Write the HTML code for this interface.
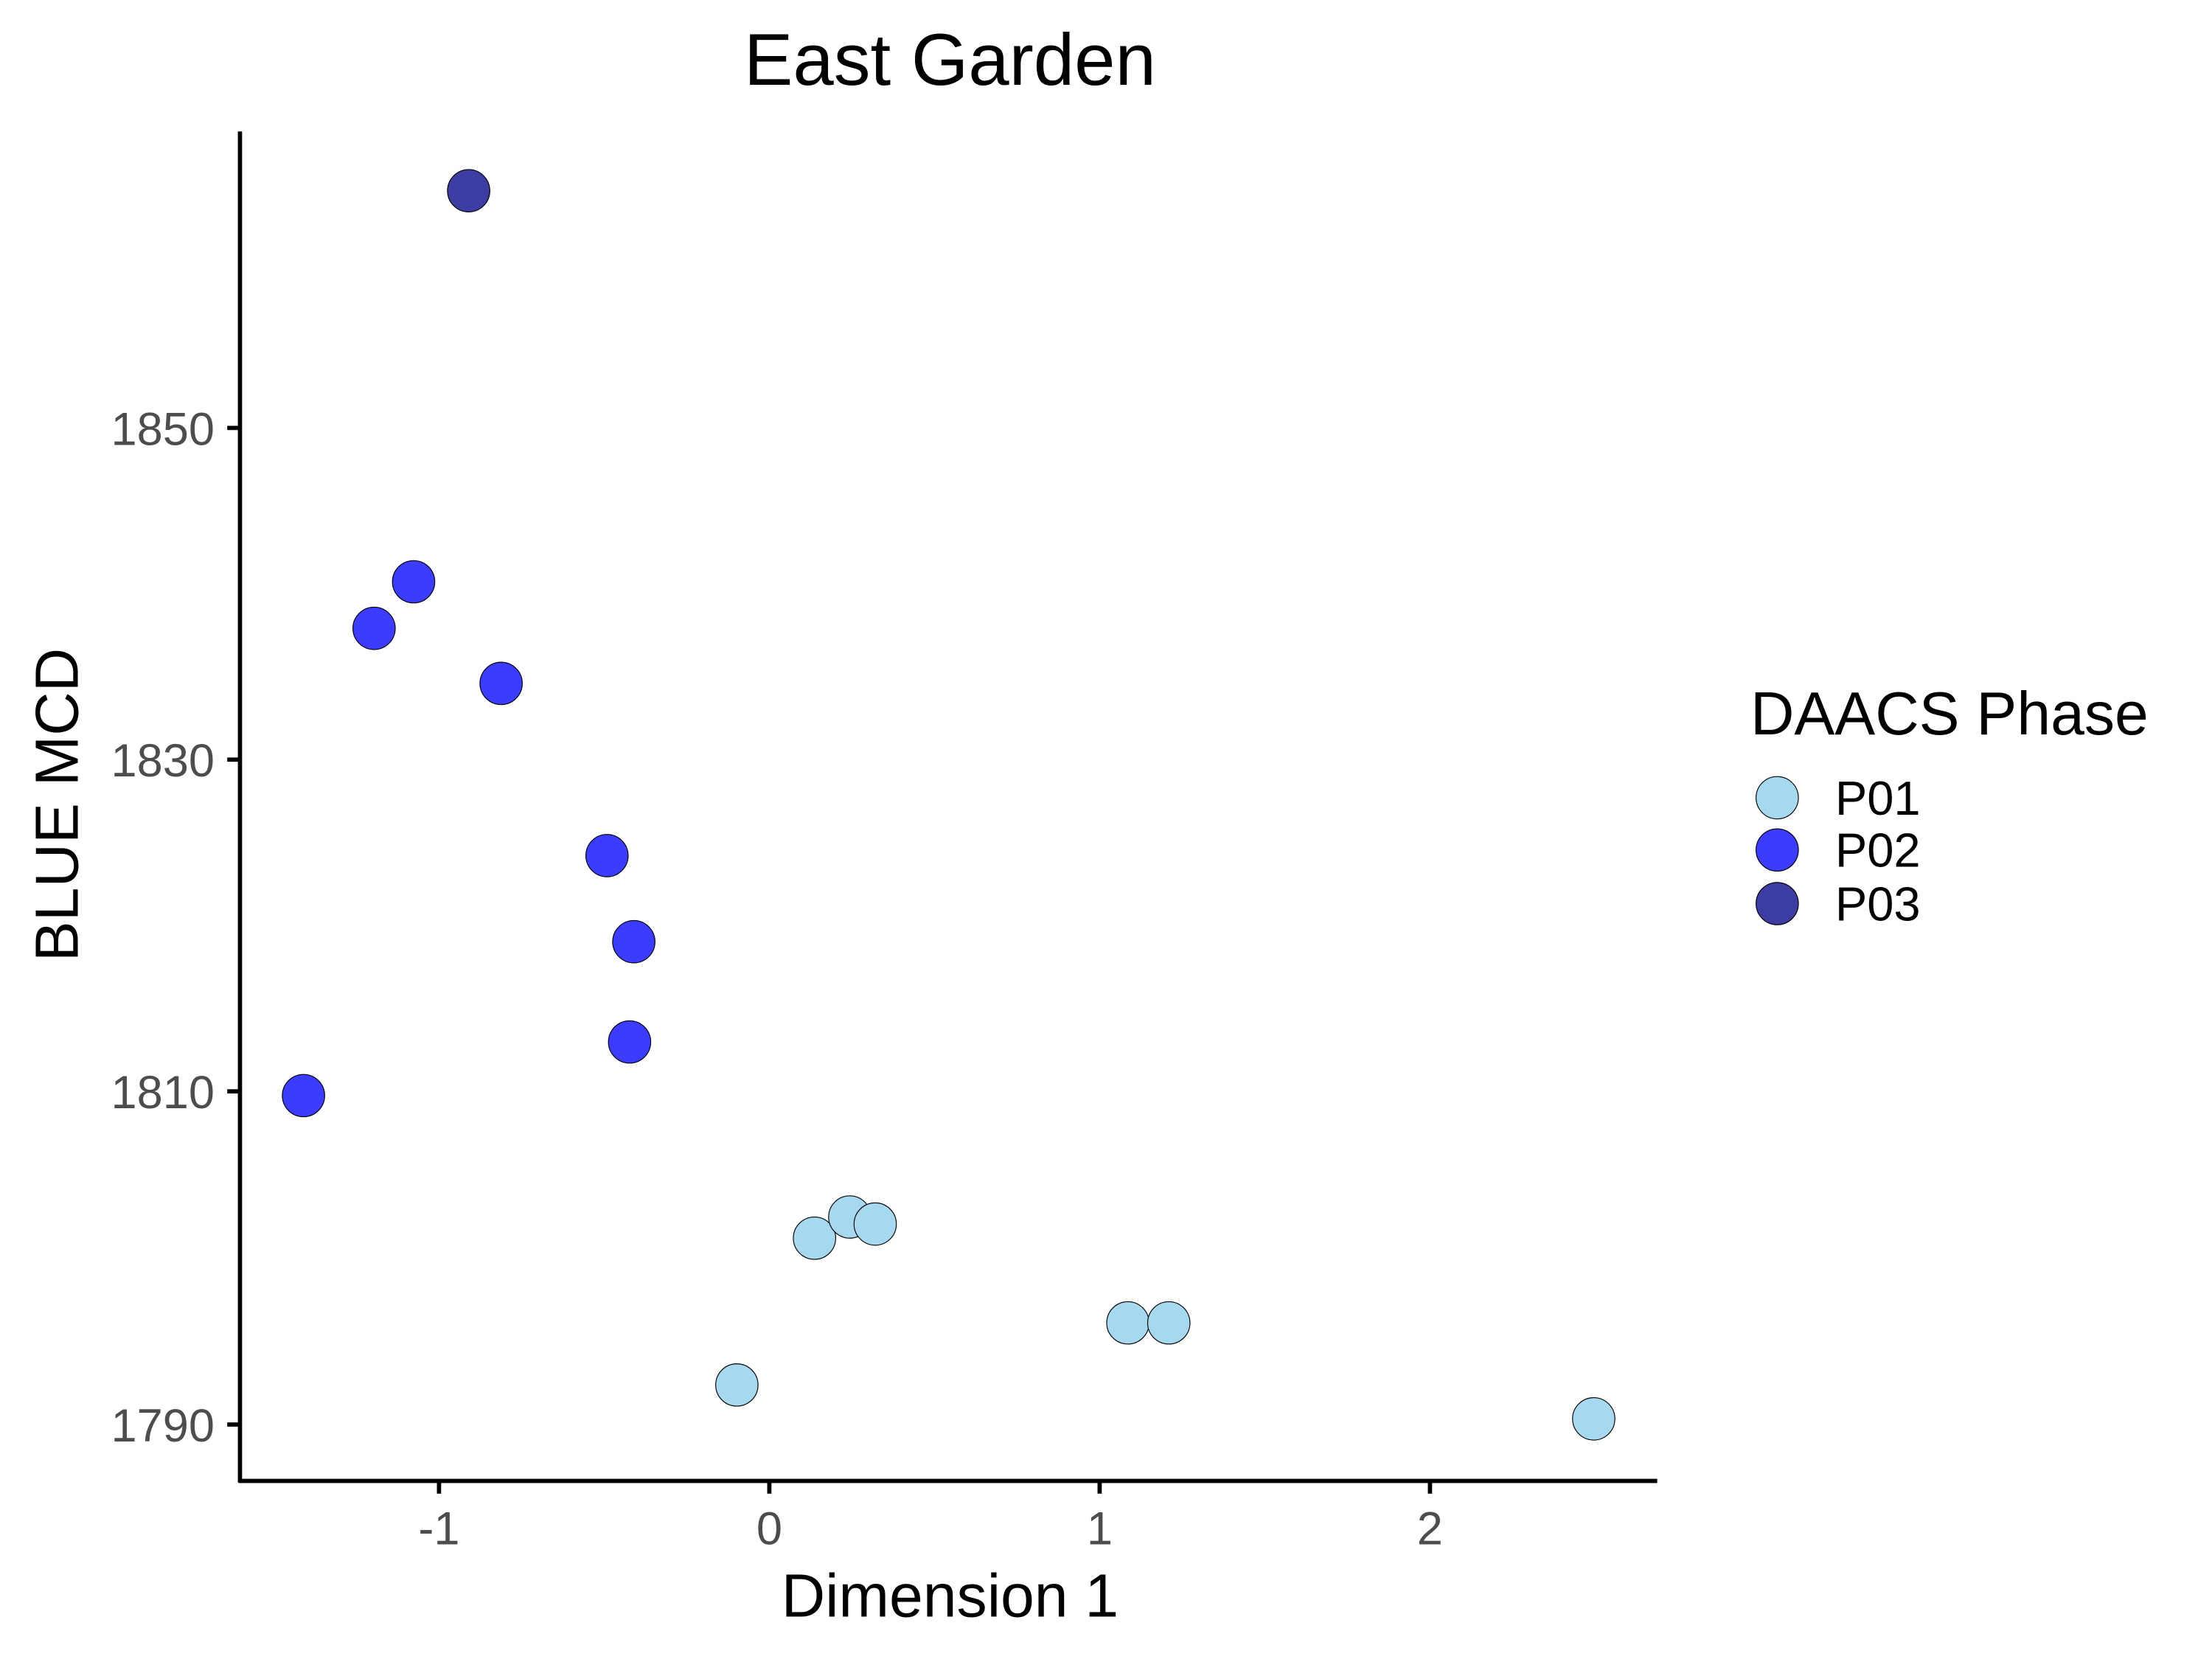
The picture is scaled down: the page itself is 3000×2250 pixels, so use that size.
<!DOCTYPE html>
<html><head><meta charset="utf-8"><style>
html,body{margin:0;padding:0;background:#fff;}
svg{display:block;}
text{font-family:"Liberation Sans",Arial,sans-serif;}
</style></head><body>
<svg width="3000" height="2250" viewBox="0 0 1567 1175" xmlns="http://www.w3.org/2000/svg">
<rect width="1567" height="1175" fill="#fff"/>
<text x="673" y="60" font-size="52" text-anchor="middle" fill="#000">East Garden</text>
<line x1="170" y1="93" x2="170" y2="1050" stroke="#000" stroke-width="3"/>
<line x1="169" y1="1049" x2="1174" y2="1049" stroke="#000" stroke-width="3"/>
<g stroke="#000" stroke-width="3">
<line x1="161" y1="303" x2="170" y2="303"/>
<line x1="161" y1="538" x2="170" y2="538"/>
<line x1="161" y1="773" x2="170" y2="773"/>
<line x1="161" y1="1009" x2="170" y2="1009"/>
<line x1="311" y1="1049" x2="311" y2="1058"/>
<line x1="545" y1="1049" x2="545" y2="1058"/>
<line x1="779" y1="1049" x2="779" y2="1058"/>
<line x1="1013" y1="1049" x2="1013" y2="1058"/>
</g>
<g font-size="33" fill="#4d4d4d" text-anchor="end">
<text x="152" y="315">1850</text>
<text x="152" y="550">1830</text>
<text x="152" y="785">1810</text>
<text x="152" y="1021">1790</text>
</g>
<g font-size="33" fill="#4d4d4d" text-anchor="middle">
<text x="311" y="1094">-1</text>
<text x="545" y="1094">0</text>
<text x="779" y="1094">1</text>
<text x="1013" y="1094">2</text>
</g>
<text x="673" y="1145" font-size="43" text-anchor="middle" fill="#000">Dimension 1</text>
<text transform="translate(55,570) rotate(-90)" font-size="43" text-anchor="middle" fill="#000">BLUE MCD</text>
<g stroke="#000" stroke-width="0.6">
<circle cx="332" cy="135" r="15" fill="#3c3ca3"/>
<g fill="#3c3cff">
<circle cx="293" cy="412" r="15"/>
<circle cx="265" cy="445" r="15"/>
<circle cx="355" cy="484" r="15"/>
<circle cx="430" cy="606" r="15"/>
<circle cx="449" cy="667" r="15"/>
<circle cx="446" cy="738" r="15"/>
<circle cx="215" cy="776" r="15"/>
</g>
<g fill="#a6d9ef">
<circle cx="577" cy="877" r="15"/>
<circle cx="602" cy="862" r="15"/>
<circle cx="620" cy="867" r="15"/>
<circle cx="522" cy="981" r="15"/>
<circle cx="799" cy="937" r="15"/>
<circle cx="828" cy="937" r="15"/>
<circle cx="1129" cy="1005" r="15"/>
</g>
</g>
<text x="1240" y="520" font-size="43" fill="#000">DAACS Phase</text>
<g stroke="#000" stroke-width="0.6">
<circle cx="1259" cy="565" r="15" fill="#a6d9ef"/>
<circle cx="1259" cy="602" r="15" fill="#3c3cff"/>
<circle cx="1259" cy="640" r="15" fill="#3c3ca3"/>
</g>
<g font-size="34" fill="#000">
<text x="1300" y="577">P01</text>
<text x="1300" y="614">P02</text>
<text x="1300" y="652">P03</text>
</g>
</svg>
</body></html>
